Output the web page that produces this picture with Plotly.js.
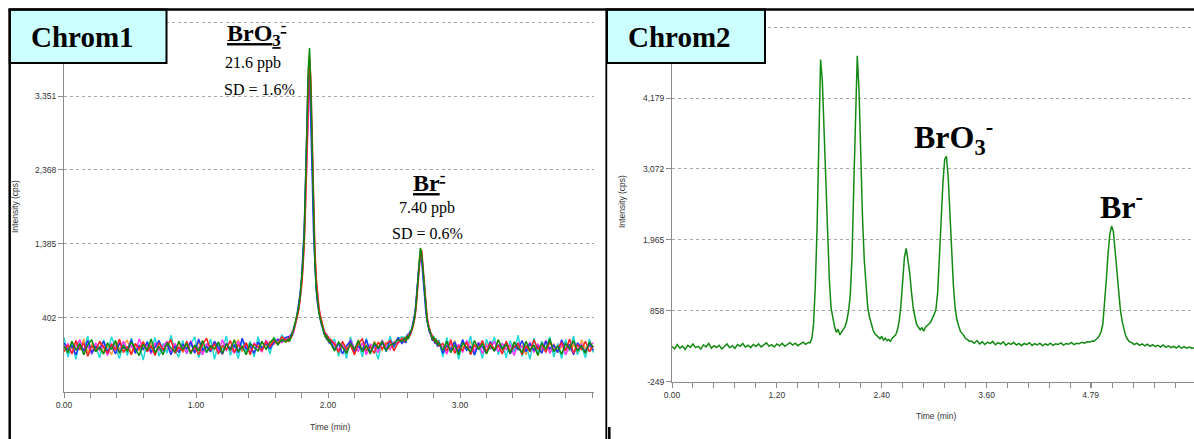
<!DOCTYPE html>
<html>
<head>
<meta charset="utf-8">
<script src="https://cdn.plot.ly/plotly-3.0.1.min.js"></script>
<style>html,body{margin:0;padding:0;background:#fff;}#chart{width:1194px;height:439px;}</style>
</head>
<body>
<div id="chart"></div>
<script>
// ---------- Chrom1 (overlaid replicate runs) ----------
const leftTime = [
0,0.03,0.06,0.09,0.12,0.15,0.18,0.21,0.24,0.27,0.3,0.33,0.36,0.39,0.42,0.45,0.48,0.51,0.54,0.57,0.6,0.63,0.66,0.69,0.72,0.75,0.78,0.81,0.84,0.87,0.9,0.93,0.96,0.99,1.02,1.05,1.08,1.11,1.14,1.17,1.2,1.23,1.26,1.29,1.32,1.35,1.38,1.41,1.44,1.47,1.5,1.53,1.56,1.59,1.62,1.65,1.68,
1.7,1.71,1.72,1.73,1.74,1.75,1.76,1.77,1.78,1.79,1.8,1.81,1.82,1.83,1.84,1.85,1.86,1.87,1.88,1.89,1.9,1.91,1.92,1.93,1.94,1.95,1.96,1.97,1.98,1.99,2,2.01,2.02,
2.05,2.08,2.11,2.14,2.17,2.2,2.23,2.26,2.29,2.32,2.35,2.38,2.41,2.44,2.47,2.5,2.53,2.56,
2.58,2.59,2.6,2.61,2.62,2.63,2.64,2.65,2.66,2.67,2.68,2.69,2.7,2.71,2.72,2.73,2.74,2.75,2.76,2.77,2.78,2.79,2.8,2.81,2.82,2.83,2.84,
2.87,2.9,2.93,2.96,2.99,3.02,3.05,3.08,3.11,3.14,3.17,3.2,3.23,3.26,3.29,3.32,3.35,3.38,3.41,3.44,3.47,3.5,3.53,3.56,3.59,3.62,3.65,3.68,3.71,3.74,3.77,3.8,3.83,3.86,3.89,3.92,3.95,3.98,4.01
];
const runOrange = [
40,-80,10,70,-30,120,-60,50,-20,80,-50,20,-90,60,-10,40,100,-70,30,-40,90,-20,60,-80,10,50,-30,120,-50,70,-60,20,40,-30,80,-70,10,90,-20,50,-90,70,-40,30,110,-50,60,-10,-60,40,70,10,90,50,80,130,100,
130,120,170,200,260,320,390,460,570,720,900,1180,1550,2150,2950,3650,3900,3400,2650,1800,1200,860,650,500,410,340,260,220,150,180,110,70,120,
30,-50,70,-10,50,-80,110,-20,40,-60,90,10,-30,80,0,70,120,80,
80,140,120,170,200,210,270,340,440,620,870,1140,1330,1220,1010,740,530,390,300,210,180,110,140,90,100,50,60,
-40,70,-10,100,-60,30,-20,90,-50,40,-80,60,20,-30,110,-40,50,-70,80,-10,30,-90,70,-20,50,-50,100,-30,60,-60,20,90,-40,50,-80,110,-10,40,-50
];
const runCyan = [
140,-120,60,-150,100,-40,160,-90,20,-130,110,-60,150,-10,-140,80,-100,130,-50,40,-160,90,-20,140,-110,60,-70,170,-30,-120,100,-80,50,150,-130,20,-60,120,-150,70,-20,160,-100,40,-140,110,-50,90,-120,150,-30,100,-80,140,60,170,120,
110,140,190,180,240,300,370,450,550,700,890,1160,1520,2120,2850,3500,3800,3350,2550,1750,1180,840,640,500,410,350,270,200,190,120,150,90,60,
120,-110,60,-140,150,-30,90,-120,130,-60,20,-150,110,-50,160,-20,130,150,
140,110,190,150,220,240,290,360,460,650,890,1130,1300,1240,1020,760,540,410,300,230,190,140,160,70,130,20,110,
-120,140,-60,90,-150,110,-30,160,-100,50,-140,120,-20,150,-90,70,-130,100,-50,170,-110,40,-150,130,-70,90,-10,150,-120,60,-140,110,-40,160,-90,30,-130,120,-60
];
const runMagenta = [
-10,60,-70,20,110,-40,30,-80,70,-30,40,-100,60,10,-50,90,-20,30,-60,120,-10,40,-80,70,-30,20,90,-50,60,-20,30,-70,100,-40,10,-90,60,-10,80,-50,110,-30,20,-70,90,-20,40,-60,70,0,-50,100,40,60,120,70,130,
100,170,140,220,210,290,350,430,540,680,860,1100,1450,2000,2700,3300,3550,3300,2500,1750,1250,900,680,540,420,360,280,250,170,190,100,140,70,
80,-30,40,-70,110,0,-40,70,-90,50,10,-60,100,20,-20,80,60,120,
120,100,140,190,170,250,290,360,470,660,880,1100,1280,1200,980,760,540,400,300,240,160,170,90,120,50,90,40,
20,-80,70,-30,50,-60,100,0,-40,80,-70,30,-10,90,-50,60,-20,40,-100,70,10,-30,80,-60,50,-10,100,-70,30,-40,60,-90,20,80,-20,50,-60,30,70
];
const runBlue = [
70,-20,30,-90,50,-40,100,-60,20,-10,90,-50,40,-80,60,0,-30,110,-70,30,-20,80,-50,10,100,-40,60,-90,30,-60,50,-10,80,-70,120,-30,20,-50,90,0,-80,60,-20,40,-60,130,-10,30,-70,80,0,60,-10,70,110,90,140,
150,110,180,160,270,310,380,500,590,740,940,1220,1600,2250,3000,3600,3700,3100,2300,1550,1080,780,600,460,390,310,270,180,200,110,140,60,100,
-20,60,-80,30,90,-50,20,-30,110,-60,40,-10,70,-40,100,30,140,60,
100,70,170,140,210,200,300,370,480,680,920,1120,1220,1150,940,700,500,360,280,200,190,100,130,60,90,20,80,
-70,30,-20,80,-50,110,-30,20,-90,60,10,-60,90,-40,40,-10,70,-80,30,-20,100,-50,60,-30,20,-70,90,-10,40,-60,110,-20,50,-90,70,0,-40,60,-30
];
const runRed = [
-50,40,-80,100,-20,70,-110,30,-40,90,10,-70,50,-30,120,-60,20,-90,60,-10,80,-50,30,-100,70,-20,40,110,-70,10,-40,90,-60,20,-90,50,130,-30,60,-80,30,-20,100,-60,40,-10,70,-90,50,20,-30,80,20,100,60,150,110,
90,150,130,190,230,300,360,440,520,650,820,1050,1380,1900,2600,3350,3850,3600,2800,1950,1350,950,720,560,450,370,300,230,200,130,160,80,110,
50,-60,90,-20,40,-90,60,120,-30,20,-70,80,-10,50,100,-40,70,130,
90,150,110,180,160,220,260,330,420,580,820,1080,1260,1300,1100,820,600,430,320,250,190,160,100,130,60,100,30,
60,-40,110,-70,20,-30,80,-90,40,-10,100,-50,70,-20,30,-80,90,-40,10,60,-90,30,-50,110,-20,50,-60,80,-30,10,70,-40,120,-70,40,-20,90,-50,30
];
const runGreen = [
20,-60,90,-30,60,-90,40,110,-50,10,-80,70,-20,100,-70,30,-40,80,-10,-100,50,-30,120,-60,20,-90,70,0,-50,90,-20,60,-80,40,-40,100,-60,30,-10,80,-70,50,-30,110,-50,20,-90,60,10,-40,90,-20,70,130,40,110,80,
120,90,160,210,250,330,400,470,560,700,880,1150,1500,2100,2900,3700,3990,3450,2600,1700,1150,820,620,480,400,330,250,210,140,170,90,120,60,
-40,80,10,-70,60,-20,100,-50,30,-80,70,0,90,-30,40,60,110,90,
130,90,160,120,190,230,280,350,450,640,900,1150,1330,1250,1000,750,520,380,290,220,170,120,150,80,110,40,70,
-30,90,-60,40,-90,70,10,-50,100,-20,60,-80,30,-40,110,-10,50,-70,80,0,-60,90,-30,40,-100,70,-20,120,-50,20,-80,60,-10,100,-40,30,-70,80,10
];
const leftRuns = [runOrange, runCyan, runMagenta, runBlue, runRed, runGreen];
const leftColors = ['#ff9a3c', '#22d8d8', '#ff33ff', '#2233ff', '#ff2222', '#0a8a0a'];
const leftYTicks = [402, 1385, 2368, 3351, 4334];
const leftYLabels = ['402', '1,385', '2,368', '3,351', ''];
const leftXTicks = [0, 1, 2, 3];
const leftXLabels = ['0.00', '1.00', '2.00', '3.00'];

// ---------- Chrom2 ----------
const rightTime = [
0,0.03,0.06,0.09,0.12,0.15,0.18,0.21,0.24,0.27,0.3,0.33,0.36,0.39,0.42,0.45,0.48,0.51,0.54,0.57,0.6,0.63,0.66,0.69,0.72,0.75,0.78,0.81,0.84,0.87,0.9,0.93,0.96,0.99,1.02,1.05,1.08,1.11,1.14,1.17,1.2,1.23,1.26,1.29,1.32,1.35,1.38,1.41,1.44,1.47,1.5,1.53,1.56,
1.58,1.6,1.62,1.64,1.66,1.68,1.7,1.72,1.74,1.76,1.78,1.8,1.82,1.84,1.86,1.88,1.9,1.92,1.94,1.96,1.98,2,2.02,2.04,2.06,2.08,2.1,2.12,2.14,2.16,2.18,2.2,2.22,2.24,2.26,2.28,2.3,2.32,2.34,2.36,2.38,2.4,2.42,2.44,2.46,2.48,2.5,2.52,2.54,2.56,2.58,2.6,2.62,2.64,2.66,2.68,2.7,2.72,2.74,2.76,2.78,2.8,2.82,2.84,2.86,2.88,2.9,2.92,2.94,2.96,2.98,3,3.02,3.04,3.06,3.08,3.1,3.12,3.14,3.16,3.18,3.2,3.22,3.24,3.26,3.28,3.3,3.32,3.34,3.36,3.38,3.4,
3.43,3.46,3.49,3.52,3.55,3.58,3.61,3.64,3.67,3.7,3.73,3.76,3.79,3.82,3.85,3.88,3.91,3.94,3.97,4,4.03,4.06,4.09,4.12,4.15,4.18,4.21,4.24,4.27,4.3,4.33,4.36,4.39,4.42,4.45,4.48,4.51,4.54,4.57,4.6,4.63,4.66,4.69,4.72,4.75,4.78,4.81,
4.83,4.85,4.87,4.89,4.91,4.93,4.95,4.97,4.99,5.01,5.03,5.05,5.07,5.09,5.11,5.13,5.15,5.17,5.19,5.21,5.23,
5.26,5.29,5.32,5.35,5.38,5.41,5.44,5.47,5.5,5.53,5.56,5.59,5.62,5.65,5.68,5.71,5.74,5.77,5.8,5.83,5.86,5.89,5.92,5.95,5.98
];
const rightIntensity = [
300,262,328,274,306,252,318,288,338,282,302,258,326,292,348,272,312,284,318,262,298,338,280,312,270,328,302,346,290,318,282,330,298,340,292,318,356,302,328,292,338,310,348,302,332,358,322,350,312,342,368,334,362,
360,420,650,1250,2150,3250,4780,4450,3600,2900,
1950,1350,900,720,610,520,570,480,530,560,
610,700,850,1100,1700,2800,4100,4840,4300,3050,
2300,1650,1200,900,760,650,560,500,470,450,
420,460,400,430,390,410,380,430,450,480,
560,700,950,1350,1700,1830,1650,1450,1150,900,
760,640,600,560,590,540,600,620,650,680,
730,800,880,1150,1700,2300,2850,3220,3270,2950,
2300,1750,1250,900,720,620,540,500,470,420,
410,380,
380,350,392,340,372,330,366,344,378,326,360,338,372,318,352,332,364,322,348,312,346,328,358,316,344,324,352,310,340,322,350,318,342,330,356,320,346,334,362,328,350,342,366,350,372,368,384,
380,400,430,470,530,650,950,1350,1750,2050,2180,2100,1800,1450,1150,880,700,560,470,420,380,
360,330,352,318,340,310,334,302,326,296,318,290,324,286,310,282,300,276,306,270,296,272,290,268,284
];
const rightYTicks = [-249, 858, 1965, 3072, 4179, 5286];
const rightYLabels = ['-249', '858', '1,965', '3,072', '4,179', ''];
const rightXTicks = [0, 1.2, 2.4, 3.6, 4.79];
const rightXLabels = ['0.00', '1.20', '2.40', '3.60', '4.79'];

// ---------- layout helpers (pixel -> paper) ----------
const W = 1194, H = 439;
const px = v => v / W;
const py = v => 1 - v / H;

const traces = [];
leftRuns.forEach((run, i) => {
  traces.push({x: leftTime, y: run, type: 'scatter', mode: 'lines', xaxis: 'x', yaxis: 'y',
    line: {color: leftColors[i], width: 1.5}, hoverinfo: 'skip', showlegend: false});
});
traces.push({x: rightTime, y: rightIntensity, type: 'scatter', mode: 'lines', xaxis: 'x2', yaxis: 'y2',
  line: {color: '#128a12', width: 1.5}, hoverinfo: 'skip', showlegend: false});

const tickFont = {family: 'Liberation Sans, Arial, sans-serif', size: 8.5, color: '#333'};
const axisGray = '#8c8c8c';
function xAxis(dom, range, tv, tt, anchor, minorStep) {
  return {domain: dom, range: range, anchor: anchor, tickmode: 'array', tickvals: tv, ticktext: tt,
    ticks: 'outside', ticklen: 5, tickcolor: axisGray, tickwidth: 1, showline: true, linecolor: axisGray, linewidth: 1,
    showgrid: false, zeroline: false, tickfont: tickFont, fixedrange: true,
    minor: {tickmode: 'linear', tick0: 0, dtick: minorStep, ticks: 'outside', ticklen: 5, tickcolor: axisGray, showgrid: false}};
}
function yAxis(dom, range, tv, tt, anchor) {
  return {domain: dom, range: range, anchor: anchor, tickmode: 'array', tickvals: tv, ticktext: tt,
    ticks: 'outside', ticklen: 5, tickcolor: axisGray, tickwidth: 1, showline: true, linecolor: axisGray, linewidth: 1,
    showgrid: true, gridcolor: '#a6a6a6', griddash: 'dot', gridwidth: 1, zeroline: false, tickfont: tickFont, fixedrange: true};
}

const serif = 'Times New Roman, Liberation Serif, serif';
function ann(x, y, text, size, extra) {
  return Object.assign({xref: 'paper', yref: 'paper', x: px(x), y: py(y), text: text, showarrow: false,
    xanchor: 'center', yanchor: 'middle', font: {family: serif, size: size, color: '#000'}}, extra || {});
}
const smallFont = {family: 'Liberation Sans, Arial, sans-serif', size: 8.5, color: '#333'};

const layout = {
  width: W, height: H, margin: {l: 0, r: 0, t: 0, b: 0},
  paper_bgcolor: '#fff', plot_bgcolor: '#fff', showlegend: false,
  xaxis: xAxis([px(64), px(594)], [0, 4.015], leftXTicks, leftXLabels, 'y', 0.2),
  yaxis: yAxis([py(391.7), py(10)], [-581, 4496], leftYTicks, leftYLabels, 'x'),
  xaxis2: xAxis([px(672), 1], [0, 5.973], rightXTicks, rightXLabels, 'y2', 0.24),
  yaxis2: yAxis([py(381.6), py(10)], [-249, 5553], rightYTicks, rightYLabels, 'x2'),
  shapes: [
    {type: 'rect', xref: 'paper', yref: 'paper', x0: px(9.7), x1: px(166.5), y0: py(63), y1: py(9.5), fillcolor: '#ccffff', line: {color: '#000', width: 2}, layer: 'above'},
    {type: 'rect', xref: 'paper', yref: 'paper', x0: px(607), x1: px(765), y0: py(63), y1: py(9.5), fillcolor: '#ccffff', line: {color: '#000', width: 2}, layer: 'above'},
    {type: 'line', xref: 'paper', yref: 'paper', x0: px(8.5), x1: 1, y0: py(9.5), y1: py(9.5), line: {color: '#000', width: 2.5}, layer: 'above'},
    {type: 'line', xref: 'paper', yref: 'paper', x0: px(9.7), x1: px(9.7), y0: py(9.5), y1: 0, line: {color: '#000', width: 2.5}, layer: 'above'},
    {type: 'line', xref: 'paper', yref: 'paper', x0: px(606.3), x1: px(606.3), y0: py(9.5), y1: 0, line: {color: '#000', width: 1.8}, layer: 'above'},
    {type: 'line', xref: 'paper', yref: 'paper', x0: px(609.3), x1: px(609.3), y0: py(427), y1: 0, line: {color: '#000', width: 2.5}, layer: 'above'}
  ],
  annotations: [
    ann(82, 37, '<b>Chrom1</b>', 29),
    ann(680, 37, '<b>Chrom2</b>', 29),
    ann(256, 33, '<b><u>BrO<sub>3</sub><sup>-</sup></u></b>', 24),
    ann(253, 63, '21.6 ppb', 16),
    ann(259, 89, 'SD = 1.6%', 16),
    ann(429, 181, '<b><u>Br<sup>-</sup></u></b>', 24),
    ann(427, 208, '7.40 ppb', 16),
    ann(427, 233, 'SD = 0.6%', 16),
    ann(953, 137, '<b>BrO<sub>3</sub><sup>-</sup></b>', 32),
    ann(1121, 205, '<b>Br<sup>-</sup></b>', 32),
    ann(15, 207, 'Intensity (cps)', 8.5, {textangle: -90, font: smallFont}),
    ann(622, 202, 'Intensity (cps)', 8.5, {textangle: -90, font: smallFont}),
    ann(330, 427, 'Time (min)', 8.5, {font: smallFont}),
    ann(936, 416, 'Time (min)', 8.5, {font: smallFont})
  ]
};

Plotly.newPlot('chart', traces, layout, {staticPlot: true, displayModeBar: false});
</script>
</body>
</html>
